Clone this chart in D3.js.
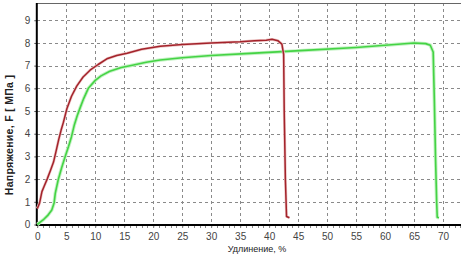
<!DOCTYPE html>
<html>
<head>
<meta charset="utf-8">
<script src="https://cdn.jsdelivr.net/npm/d3@7"></script>
<style>
  html, body { margin: 0; padding: 0; background: #fff; }
  svg { display: block; font-family: "Liberation Sans", Arial, sans-serif; }
</style>
</head>
<body>
<script>
// elongation, % (x) / stress, MPa (y)
const redX = [0, 0.4, 0.8, 1.2, 1.7, 2.3, 2.8, 3.3, 3.7, 4.1, 4.5, 5.1, 5.9, 6.8, 7.9, 9.1, 10.5, 12.0, 13.7, 15.5, 18.0, 21.2, 25, 30, 35, 37.5, 39.5, 40.5, 41.5, 42.2, 42.5, 42.6, 42.8, 43.0, 43.5];
const redY = [0.7, 0.95, 1.45, 1.7, 2.0, 2.4, 2.75, 3.3, 3.75, 4.15, 4.5, 5.1, 5.65, 6.1, 6.5, 6.8, 7.05, 7.3, 7.45, 7.55, 7.72, 7.85, 7.93, 8.0, 8.05, 8.1, 8.12, 8.16, 8.1, 7.95, 7.5, 5.0, 2.0, 0.35, 0.3];

const greenX = [0, 0.5, 1.0, 1.8, 2.5, 2.9, 3.1, 3.6, 4.2, 4.8, 5.4, 5.9, 6.4, 6.9, 7.4, 8.0, 8.8, 10.0, 11.0, 12.5, 14.5, 16.6, 18.8, 21.2, 25, 30, 36.7, 45.3, 55, 60, 65, 67.0, 67.8, 68.3, 68.5, 68.7, 68.9, 69.0, 69.3];
const greenY = [0, 0.1, 0.2, 0.4, 0.64, 0.95, 1.37, 1.96, 2.5, 2.99, 3.45, 3.87, 4.4, 4.8, 5.15, 5.55, 6.0, 6.35, 6.55, 6.75, 6.92, 7.03, 7.15, 7.25, 7.35, 7.45, 7.54, 7.66, 7.8, 7.9, 8.0, 7.97, 7.9, 7.6, 5.5, 3.0, 1.0, 0.32, 0.3];

const xTicks = d3.range(0, 71, 5);
const yTicks = d3.range(0, 10, 1);
const xTitle = "Удлинение, %";
const yTitle = "Напряжение, F [ МПа ]";

const width = 461, height = 258;
const mLeft = 37.3, mRight = 461, mTop = 3, mBottom = 224.5;

const svg = d3.select("body").append("svg")
  .attr("width", width).attr("height", height)
  .attr("viewBox", "0 0 " + width + " " + height);

const x = d3.scaleLinear().domain([0, 73.1]).range([mLeft, mRight]);
const y = d3.scaleLinear().domain([0, 9.76]).range([mBottom, mTop]);

// dashed grid
const grid = svg.append("g")
  .attr("stroke", "#8a8a8a").attr("stroke-width", 1)
  .attr("stroke-dasharray", "3,3").attr("shape-rendering", "crispEdges");
grid.selectAll(".gx").data(xTicks.filter(d => d > 0)).join("line")
  .attr("x1", d => Math.round(x(d)) + 0.5).attr("x2", d => Math.round(x(d)) + 0.5)
  .attr("y1", mTop).attr("y2", mBottom);
grid.selectAll(".gy").data(yTicks.filter(d => d > 0)).join("line")
  .attr("x1", mLeft).attr("x2", mRight)
  .attr("y1", d => Math.round(y(d)) + 0.5).attr("y2", d => Math.round(y(d)) + 0.5);

// top frame line
svg.append("line")
  .attr("x1", mLeft).attr("x2", mRight).attr("y1", mTop + 0.5).attr("y2", mTop + 0.5)
  .attr("stroke", "#666").attr("shape-rendering", "crispEdges");

// axes
const xAxis = d3.axisBottom(x).tickValues(xTicks).tickSize(3).tickFormat(d3.format("d"));
const gx = svg.append("g").attr("transform", "translate(0," + mBottom + ")").call(xAxis);
gx.select(".domain").remove();
gx.selectAll(".tick line").attr("stroke", "#555");
gx.selectAll("text").attr("font-size", "10px").attr("fill", "#444").attr("dy", "0.95em");
// minor ticks every 1 %
svg.append("g").selectAll("line").data(d3.range(0, 74, 1)).join("line")
  .attr("x1", d => Math.round(x(d)) + 0.5).attr("x2", d => Math.round(x(d)) + 0.5)
  .attr("y1", mBottom).attr("y2", mBottom + 3)
  .attr("stroke", "#888").attr("shape-rendering", "crispEdges");
svg.append("line")
  .attr("x1", mLeft - 1).attr("x2", mRight).attr("y1", mBottom + 0.5).attr("y2", mBottom + 0.5)
  .attr("stroke", "#000").attr("stroke-width", 2);

const yAxis = d3.axisLeft(y).tickValues(yTicks).tickSize(3).tickFormat(d3.format("d"));
const gy = svg.append("g").attr("transform", "translate(" + mLeft + ",0)").call(yAxis);
gy.select(".domain").remove();
gy.selectAll(".tick line").attr("stroke", "#555");
gy.selectAll("text").attr("font-size", "10px").attr("fill", "#444").attr("x", -7);
svg.append("line")
  .attr("x1", mLeft - 0.5).attr("x2", mLeft - 0.5).attr("y1", mTop).attr("y2", mBottom + 1.5)
  .attr("stroke", "#000").attr("stroke-width", 2);

// titles
svg.append("text")
  .attr("x", 257).attr("y", 252)
  .attr("text-anchor", "middle").attr("font-size", "9px").attr("fill", "#222")
  .text(xTitle);
svg.append("text")
  .attr("transform", "translate(13," + 135 + ") rotate(-90)")
  .attr("text-anchor", "middle").attr("font-size", "10.5px").attr("font-weight", "bold").attr("fill", "#222")
  .attr("letter-spacing", "0.3px")
  .text(yTitle);

// curves
const line = d3.line().x(d => x(d[0])).y(d => y(d[1])).curve(d3.curveMonotoneX);
const lineDrop = d3.line().x(d => x(d[0])).y(d => y(d[1]));
const green = d3.zip(greenX, greenY);
const red = d3.zip(redX, redY);

svg.append("path").datum(green).attr("d", lineDrop)
  .attr("fill", "none").attr("stroke", "#c4f2c4").attr("stroke-width", 3.5).attr("stroke-linejoin", "round");
svg.append("path").datum(green).attr("d", lineDrop)
  .attr("fill", "none").attr("stroke", "#44d344").attr("stroke-width", 1.6).attr("stroke-linejoin", "round");

svg.append("path").datum(red).attr("d", lineDrop)
  .attr("fill", "none").attr("stroke", "#ecc4c4").attr("stroke-width", 2.8).attr("stroke-linejoin", "round");
svg.append("path").datum(red).attr("d", lineDrop)
  .attr("fill", "none").attr("stroke", "#a3232b").attr("stroke-width", 1.5).attr("stroke-linejoin", "round");
</script>
</body>
</html>
